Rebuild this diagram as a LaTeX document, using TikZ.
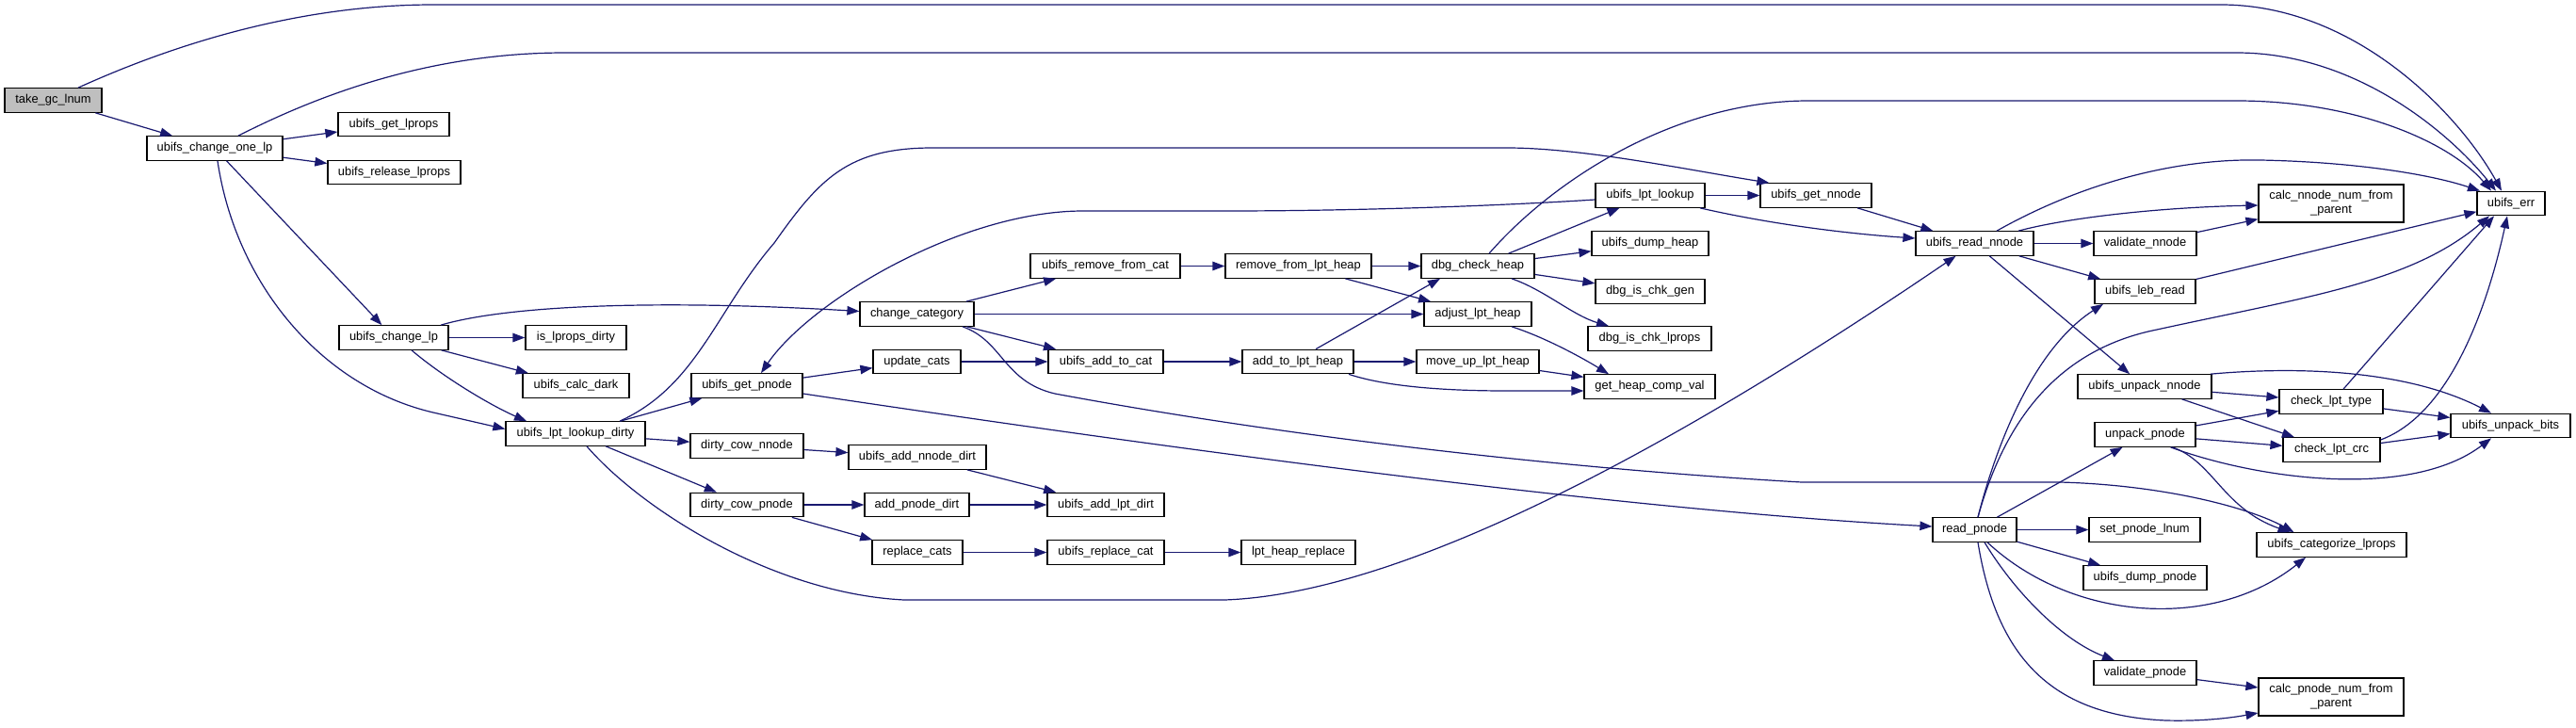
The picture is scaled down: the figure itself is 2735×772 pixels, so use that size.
\documentclass[tikz,border=0pt]{standalone}
\usepackage{fontspec}
\setmainfont{Liberation Sans}
\usetikzlibrary{arrows.meta,calc}
\definecolor{edgec}{HTML}{191970}
\definecolor{rootfill}{HTML}{BFBFBF}
\begin{document}
\begin{tikzpicture}[x=1pt,y=-1pt,
  fn/.style={draw=black, line width=1.2pt, fill=white, inner sep=0pt, minimum height=25.5pt, font=\fontsize{12.9}{15}\selectfont, align=center},
  call/.style={draw=edgec, line width=1.2pt, -{Triangle[length=13pt,width=9.5pt]}}]
\useasboundingbox (0,0) rectangle (2735,772);
% nodes
\node[fn, fill=rootfill, minimum width=103pt] (take) at (56.5,106.5) {take\_gc\_lnum};
\node[fn, minimum width=144pt] (cop) at (228,157.5) {ubifs\_change\_one\_lp};
\node[fn, minimum width=118pt] (glp) at (418,132) {ubifs\_get\_lprops};
\node[fn, minimum width=141pt] (rlp) at (418.5,183) {ubifs\_release\_lprops};
\node[fn, minimum width=116pt] (clp) at (418,358.5) {ubifs\_change\_lp};
\node[fn, minimum width=107pt] (ild) at (611.5,358.5) {is\_lprops\_dirty};
\node[fn, minimum width=113pt] (ccd) at (611.5,409.5) {ubifs\_calc\_dark};
\node[fn, minimum width=148pt] (lld) at (611,460.5) {ubifs\_lpt\_lookup\_dirty};
\node[fn, minimum width=118pt] (gpn) at (793,409.5) {ubifs\_get\_pnode};
\node[fn, minimum width=120pt] (dcn) at (793,473.5) {dirty\_cow\_nnode};
\node[fn, minimum width=120pt] (dcp) at (793,536) {dirty\_cow\_pnode};
\node[fn, minimum width=121pt] (cc) at (973.5,333.5) {change\_category};
\node[fn, minimum width=93pt] (uc) at (973.5,384) {update\_cats};
\node[fn, minimum width=159pt] (rfc) at (1173.5,282.5) {ubifs\_remove\_from\_cat};
\node[fn, minimum width=122pt] (atc) at (1174,384) {ubifs\_add\_to\_cat};
\node[fn, minimum width=146pt] (andd) at (974,485.5) {ubifs\_add\_nnode\_dirt};
\node[fn, minimum width=111pt] (apd) at (973.5,536) {add\_pnode\_dirt};
\node[fn, minimum width=124pt] (ald) at (1174,536) {ubifs\_add\_lpt\_dirt};
\node[fn, minimum width=96pt] (rc) at (974,586.5) {replace\_cats};
\node[fn, minimum width=124pt] (rpc) at (1174,586.5) {ubifs\_replace\_cat};
\node[fn, minimum width=121pt] (lhr) at (1378.5,586.5) {lpt\_heap\_replace};
\node[fn, minimum width=155pt] (rfh) at (1378.5,282.5) {remove\_from\_lpt\_heap};
\node[fn, minimum width=118pt] (ath) at (1378,384) {add\_to\_lpt\_heap};
\node[fn, minimum width=120pt] (dch) at (1569,282.5) {dbg\_check\_heap};
\node[fn, minimum width=114pt] (alh) at (1569,333.5) {adjust\_lpt\_heap};
\node[fn, minimum width=130pt] (muh) at (1569,384) {move\_up\_lpt\_heap};
\node[fn, minimum width=139pt] (ghc) at (1751.5,410.5) {get\_heap\_comp\_val};
\node[fn, minimum width=116pt] (ll) at (1752,207.5) {ubifs\_lpt\_lookup};
\node[fn, minimum width=124pt] (udh) at (1752,258.5) {ubifs\_dump\_heap};
\node[fn, minimum width=116pt] (dcg) at (1752,309.5) {dbg\_is\_chk\_gen};
\node[fn, minimum width=131pt] (dcl) at (1751.5,359.5) {dbg\_is\_chk\_lprops};
\node[fn, minimum width=118pt] (gnn) at (1928,207.5) {ubifs\_get\_nnode};
\node[fn, minimum width=125pt] (rnn) at (2096.5,258.5) {ubifs\_read\_nnode};
\node[fn, minimum width=109pt] (vnn) at (2277.5,258.5) {validate\_nnode};
\node[fn, minimum width=107pt] (lr) at (2277.5,309.5) {ubifs\_leb\_read};
\node[fn, minimum width=154pt, minimum height=40pt] (cnn) at (2475,216) {calc\_nnode\_num\_from\\\_parent};
\node[fn, minimum width=72pt] (err) at (2666,216) {ubifs\_err};
\node[fn, minimum width=142pt] (unn) at (2277,410.5) {ubifs\_unpack\_nnode};
\node[fn, minimum width=107pt] (upn) at (2277.5,461.5) {unpack\_pnode};
\node[fn, minimum width=110pt] (clt) at (2475,426.5) {check\_lpt\_type};
\node[fn, minimum width=103pt] (clc) at (2475.5,477.5) {check\_lpt\_crc};
\node[fn, minimum width=127pt] (ub) at (2665.5,452) {ubifs\_unpack\_bits};
\node[fn, minimum width=89pt] (rpn) at (2096.5,562.5) {read\_pnode};
\node[fn, minimum width=118pt] (spl) at (2277,562.5) {set\_pnode\_lnum};
\node[fn, minimum width=131pt] (udp) at (2277.5,613.5) {ubifs\_dump\_pnode};
\node[fn, minimum width=159pt] (ucl) at (2475.5,578.5) {ubifs\_categorize\_lprops};
\node[fn, minimum width=109pt] (vpn) at (2277.5,714.5) {validate\_pnode};
\node[fn, minimum width=154pt, minimum height=40pt] (cpn) at (2475,740) {calc\_pnode\_num\_from\\\_parent};
% edges
\draw[call] ($(take.north)+(26.5,0)$) .. controls (200,40) and (330,5) .. (460,5) -- (2358,5) .. controls (2500,5) and (2610,120) .. ($(err.north)+(-10,0)$);
\draw[call] ($(cop.north)+(25,0)$) .. controls (330,105) and (450,56) .. (600,56) -- (2375,56) .. controls (2500,56) and (2600,140) .. ($(err.north)+(-16,0)$);
\draw[call] (take) -- (cop);
\draw[call] (cop) -- (glp);
\draw[call] (cop) -- (rlp);
\draw[call] (cop) -- (clp);
\draw[call] ($(cop.south)+(3,0)$) .. controls (250,300) and (340,410) .. (460,438) -- ($(lld.west)+(0,-5)$);
\draw[call] ($(clp.north)+(50,0)$) .. controls (540,324) and (700,318) .. ($(cc.west)+(0,-3)$);
\draw[call] (clp) -- (ild);
\draw[call] (clp) -- (ccd);
\draw[call] ($(clp.south)+(19,0)$) .. controls (470,400) and (520,430) .. ($(lld.north)+(-52,0)$);
\draw[call] ($(lld.north)+(47,0)$) .. controls (740,410) and (760,330) .. (822,258) .. controls (870,190) and (900,157) .. (990,157) -- (1600,157) .. controls (1680,157) and (1790,180) .. ($(gnn.north west)+(10,0)$);
\draw[call] (lld) -- (gpn);
\draw[call] (lld) -- (dcn);
\draw[call] (lld) -- (dcp);
\draw[call] ($(lld.south)+(12,0)$) .. controls (680,540) and (820,630) .. (960,637) -- (1300,637) .. controls (1500,630) and (1800,460) .. ($(rnn.south)+(-20,0)$);
\draw[call] (gpn) -- (uc);
\draw[call] ($(gpn.east)+(0,8.5)$) .. controls (1200,470) and (1700,540) .. ($(rpn.west)+(0,-3.5)$);
\draw[call] ($(ll.west)+(0,4.5)$) .. controls (1600,218) and (1450,224) .. (1300,224) -- (1150,224) .. controls (1020,224) and (860,320) .. ($(gpn.north)+(15,0)$);
\draw[call] (cc) -- (rfc);
\draw[call] (cc) -- (atc);
\draw[call] (cc) -- (alh);
\draw[call] ($(cc.south)+(48.5,0)$) .. controls (1065,362) and (1065,405) .. (1120,418) .. controls (1400,470) and (1700,500) .. (1913,512) -- (2187,512) .. controls (2300,515) and (2390,540) .. ($(ucl.north)+(-40,0)$);
\draw[call] (uc) -- (atc);
\draw[call] (rfc) -- (rfh);
\draw[call] (rfh) -- (dch);
\draw[call] (rfh) -- (alh);
\draw[call] (atc) -- (ath);
\draw[call] ($(ath.north)+(19,0)$) -- ($(dch.south)+(-40,0)$);
\draw[call] (ath) -- (muh);
\draw[call] ($(ath.south)+(54,0)$) .. controls (1470,410) and (1530,415) .. (1600,415) -- ($(ghc.west)+(0,4.5)$);
\draw[call] (muh) -- (ghc);
\draw[call] ($(alh.south)+(36,0)$) .. controls (1640,358) and (1680,380) .. ($(ghc.north)+(-43.5,0)$);
\draw[call] ($(dch.north)+(12,0)$) .. controls (1650,190) and (1780,107) .. (1920,107) -- (2375,107) .. controls (2500,107) and (2600,150) .. ($(err.north)+(-21,0)$);
\draw[call] (dch) -- (ll);
\draw[call] (dch) -- (udh);
\draw[call] (dch) -- (dcg);
\draw[call] ($(dch.south)+(36,0)$) .. controls (1640,308) and (1670,335) .. ($(dcl.north)+(-43.5,0)$);
\draw[call] (ll) -- (gnn);
\draw[call] ($(ll.south)+(53,0)$) .. controls (1880,238) and (1960,248) .. ($(rnn.west)+(0,-5.5)$);
\draw[call] (gnn) -- (rnn);
\draw[call] ($(rnn.north)+(23.5,0)$) .. controls (2200,200) and (2300,168) .. (2400,170) .. controls (2500,172) and (2580,185) .. ($(err.north)+(-33,0)$);
\draw[call] ($(rnn.north)+(46.5,0)$) .. controls (2200,230) and (2300,220) .. ($(cnn.west)+(0,2)$);
\draw[call] (rnn) -- (vnn);
\draw[call] (rnn) -- (lr);
\draw[call] (rnn) -- (unn);
\draw[call] (vnn) -- (cnn);
\draw[call] (lr) -- (err);
\draw[call] ($(rpn.north)+(3.5,0)$) .. controls (2120,470) and (2160,370) .. ($(lr.south)+(-44.5,0)$);
\draw[call] ($(rpn.north)+(3.5,0)$) .. controls (2130,440) and (2190,370) .. (2290,350) .. controls (2450,315) and (2560,300) .. ($(err.south)+(-23,0)$);
\draw[call] (rpn) -- (upn);
\draw[call] (rpn) -- (spl);
\draw[call] (rpn) -- (udp);
\draw[call] ($(rpn.south)+(13.5,0)$) .. controls (2200,660) and (2350,670) .. ($(ucl.south)+(-27.5,0)$);
\draw[call] ($(rpn.south)+(10.5,0)$) .. controls (2140,630) and (2190,680) .. ($(vpn.north)+(-32.5,0)$);
\draw[call] ($(rpn.south)+(3.5,0)$) .. controls (2120,700) and (2180,760) .. (2300,765) .. controls (2340,766) and (2370,762) .. ($(cpn.west)+(0,17)$);
\draw[call] (vpn) -- (cpn);
\draw[call] (unn) -- (clt);
\draw[call] (unn) -- (clc);
\draw[call] ($(unn.north)+(70,0)$) .. controls (2450,388) and (2560,395) .. ($(ub.north)+(-20.5,0)$);
\draw[call] (upn) -- (clt);
\draw[call] (upn) -- (clc);
\draw[call] ($(upn.south)+(27,0)$) .. controls (2400,510) and (2560,530) .. ($(ub.south)+(-20.5,0)$);
\draw[call] ($(upn.south)+(29,0)$) .. controls (2350,490) and (2360,540) .. ($(ucl.north)+(-44,0)$);
\draw[call] ($(clt.north)+(13,0)$) -- ($(err.south)+(-18,0)$);
\draw[call] (clt) -- (ub);
\draw[call] ($(clc.east)+(0,-10.5)$) .. controls (2600,440) and (2640,330) .. ($(err.south)+(-4,0)$);
\draw[call] (clc) -- (ub);
\draw[call] (dcn) -- (andd);
\draw[call] (dcp) -- (apd);
\draw[call] (dcp) -- (rc);
\draw[call] (andd) -- (ald);
\draw[call] (apd) -- (ald);
\draw[call] (rc) -- (rpc);
\draw[call] (rpc) -- (lhr);
\end{tikzpicture}
\end{document}
